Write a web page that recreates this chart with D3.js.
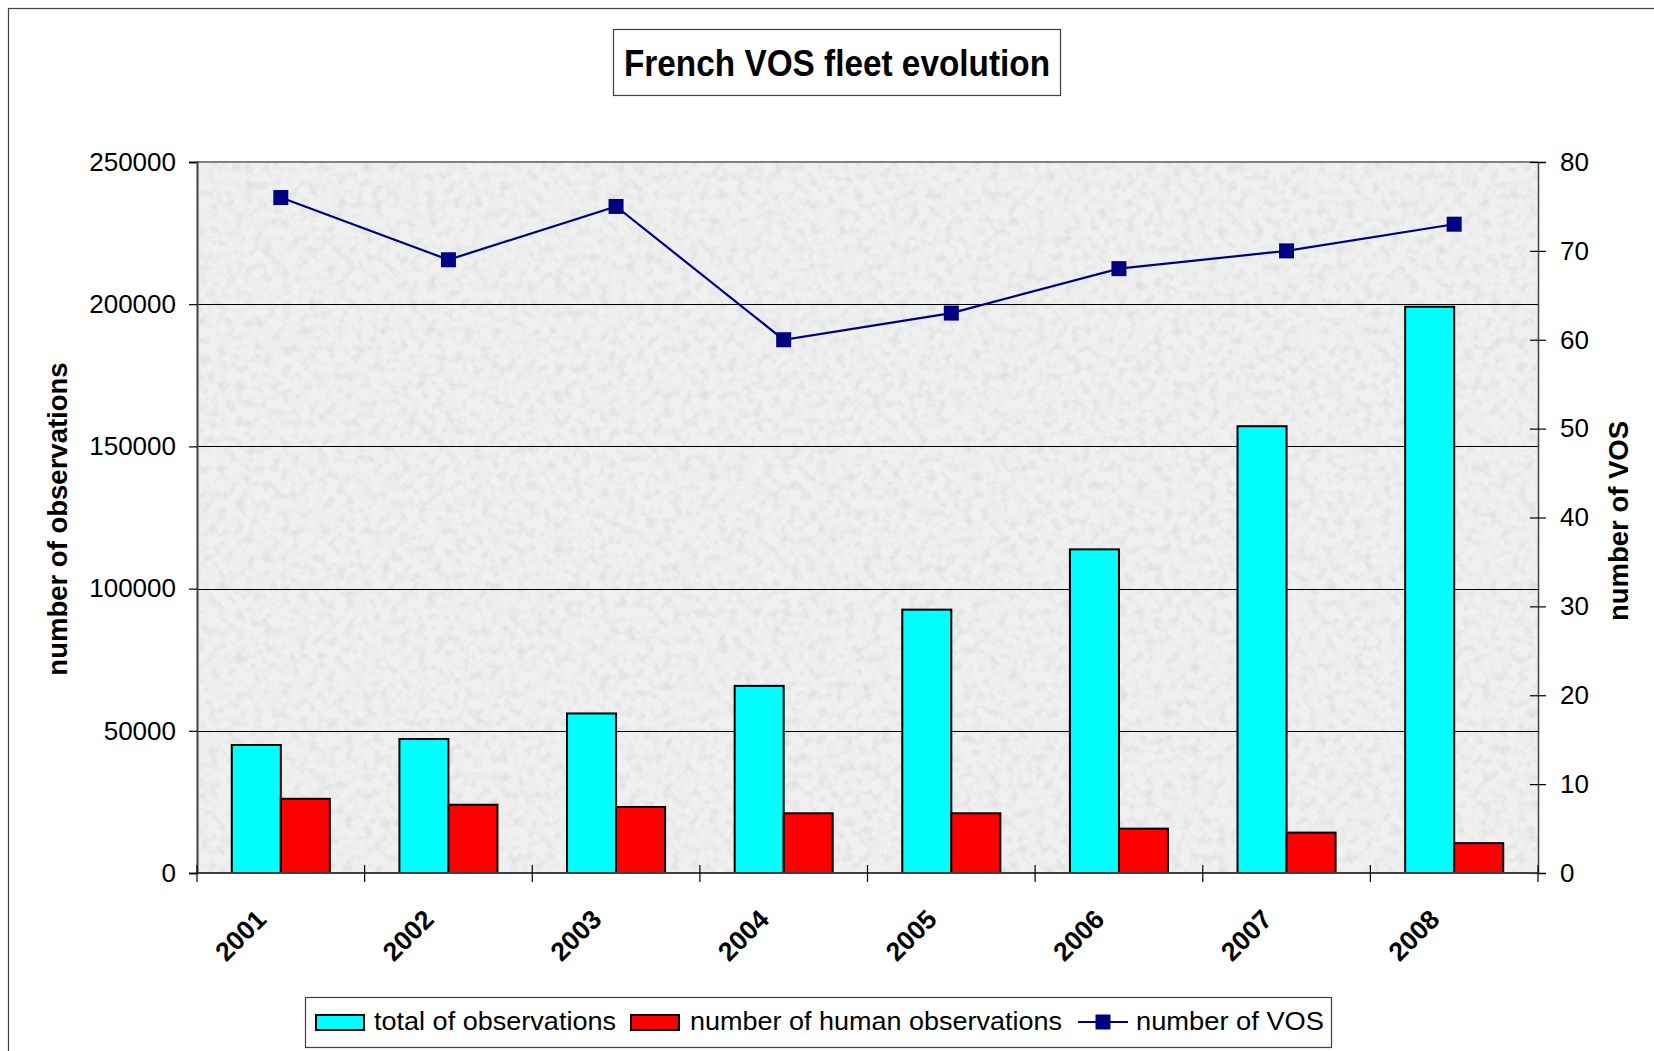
<!DOCTYPE html>
<html>
<head>
<meta charset="utf-8">
<script src="https://cdn.jsdelivr.net/npm/d3@7"></script>
<style>
  html, body { margin: 0; padding: 0; background: #ffffff; }
  svg { display: block; }
  text { font-family: "Liberation Sans", Arial, sans-serif; fill: #000; }
</style>
</head>
<body>
<svg id="chart" width="1654" height="1051"></svg>
<script>
// ---- data ----
const years = ["2001", "2002", "2003", "2004", "2005", "2006", "2007", "2008"];
const totalObservations = [45000, 47100, 56100, 65800, 92600, 113800, 157100, 199100];
const humanObservations = [26100, 24000, 23200, 21000, 21000, 15600, 14200, 10500];
const vosCount = [76, 69, 75, 60, 63, 68, 70, 73];
const leftTicks = [0, 50000, 100000, 150000, 200000, 250000];
const rightTicks = [0, 10, 20, 30, 40, 50, 60, 70, 80];
const seriesNames = ["total of observations", "number of human observations", "number of VOS"];
const titleText = "French VOS fleet evolution";
const leftAxisTitle = "number of observations";
const rightAxisTitle = "number of VOS";

// ---- layout ----
const W = 1654, H = 1051;
const plot = { left: 197, right: 1538, top: 162, bottom: 873 };
const svg = d3.select("#chart");

// defs: granite-like texture
const defs = svg.append("defs");
const f = defs.append("filter").attr("id", "granite")
  .attr("x", 0).attr("y", 0).attr("width", 1).attr("height", 1)
  .attr("filterUnits", "objectBoundingBox");
f.append("feTurbulence").attr("type", "fractalNoise").attr("baseFrequency", 0.11)
  .attr("numOctaves", 3).attr("seed", 7).attr("result", "noise");
f.append("feColorMatrix").attr("in", "noise").attr("type", "matrix")
  .attr("values", "0 0 0 0 0.62  0 0 0 0 0.62  0 0 0 0 0.62  2.2 0 0 0 -0.95");

// outer border (only top/left visible)
svg.append("rect").attr("x", 8.5).attr("y", 8.5).attr("width", 1700).attr("height", 1100)
  .attr("fill", "#fff").attr("stroke", "#404040").attr("stroke-width", 1.2);

// scales
const x0 = d3.scaleBand().domain(years).range([plot.left, plot.right]).padding(0);
const bw = x0.bandwidth();
const groupW = bw * 0.585;
const x1 = d3.scaleBand().domain(["total", "human"]).range([0, groupW]).padding(0);
const yL = d3.scaleLinear().domain([0, 250000]).range([plot.bottom, plot.top]);
const yR = d3.scaleLinear().domain([0, 80]).range([plot.bottom, plot.top]);

// plot background
svg.append("rect").attr("x", plot.left).attr("y", plot.top)
  .attr("width", plot.right - plot.left).attr("height", plot.bottom - plot.top)
  .attr("fill", "#f0f0f0");
svg.append("rect").attr("x", plot.left).attr("y", plot.top)
  .attr("width", plot.right - plot.left).attr("height", plot.bottom - plot.top)
  .attr("fill", "#000").attr("filter", "url(#granite)").attr("opacity", 0.5);

// gridlines
svg.append("g").selectAll("line")
  .data(leftTicks.filter(t => t > 0 && t < 250000)).join("line")
  .attr("x1", plot.left).attr("x2", plot.right)
  .attr("y1", d => Math.round(yL(d)) + 0.5).attr("y2", d => Math.round(yL(d)) + 0.5)
  .attr("stroke", "#000").attr("stroke-width", 1.2);
// top border
svg.append("line").attr("x1", plot.left).attr("x2", plot.right)
  .attr("y1", plot.top).attr("y2", plot.top).attr("stroke", "#808080").attr("stroke-width", 2);

// bars
const rows = years.map((y, i) => ({ year: y, total: totalObservations[i], human: humanObservations[i] }));
const groups = svg.append("g").selectAll("g").data(rows).join("g")
  .attr("transform", d => `translate(${x0(d.year) + (bw - groupW) / 2},0)`);
groups.selectAll("rect").data(d => [
  { key: "total", v: d.total, c: "#00ffff" },
  { key: "human", v: d.human, c: "#ff0000" }
]).join("rect")
  .attr("x", d => x1(d.key))
  .attr("y", d => yL(d.v))
  .attr("width", x1.bandwidth())
  .attr("height", d => yL(0) - yL(d.v))
  .attr("fill", d => d.c)
  .attr("stroke", "#000").attr("stroke-width", 2);

// line series
const line = d3.line().x((d, i) => x0(years[i]) + bw / 2).y(d => yR(d));
svg.append("path").datum(vosCount).attr("d", line)
  .attr("fill", "none").attr("stroke", "#000080").attr("stroke-width", 2.2);
svg.append("g").selectAll("rect").data(vosCount).join("rect")
  .attr("x", (d, i) => x0(years[i]) + bw / 2 - 7.5)
  .attr("y", d => yR(d) - 7.5)
  .attr("width", 15).attr("height", 15).attr("fill", "#000080");

// left axis
const axL = svg.append("g").attr("transform", `translate(${plot.left},0)`)
  .call(d3.axisLeft(yL).tickValues(leftTicks).tickSize(8).tickPadding(13).tickFormat(d3.format("d")));
axL.select(".domain").attr("stroke", "#404040").attr("stroke-width", 2);
axL.selectAll(".tick line").attr("stroke", "#000").attr("stroke-width", 1.2);
axL.selectAll("text").style("font-size", "26px").style("font-family", "Liberation Sans, Arial, sans-serif").attr("fill", "#000");

// right axis
const axR = svg.append("g").attr("transform", `translate(${plot.right},0)`)
  .call(d3.axisRight(yR).tickValues(rightTicks).tickSize(8).tickPadding(14));
axR.select(".domain").attr("stroke", "#404040").attr("stroke-width", 1.5);
axR.selectAll(".tick line").attr("x1", -8).attr("stroke", "#000").attr("stroke-width", 1.2);
axR.selectAll("text").style("font-size", "26px").style("font-family", "Liberation Sans, Arial, sans-serif").attr("fill", "#000");

// bottom axis: line + boundary ticks + rotated labels
svg.append("line").attr("x1", plot.left).attr("x2", plot.right)
  .attr("y1", plot.bottom).attr("y2", plot.bottom).attr("stroke", "#404040").attr("stroke-width", 2);
const bounds = years.map(y => x0(y)).concat([plot.right]);
svg.append("g").selectAll("line").data(bounds).join("line")
  .attr("x1", d => d).attr("x2", d => d)
  .attr("y1", plot.bottom - 8).attr("y2", plot.bottom + 9)
  .attr("stroke", "#000").attr("stroke-width", 1.2);
svg.append("g").selectAll("text").data(years).join("text")
  .attr("transform", d => `translate(${x0(d) + bw / 2 - 13},921) rotate(-45)`)
  .attr("text-anchor", "end")
  .style("font-size", "26.5px").style("font-weight", "bold")
  .text(d => d);

// axis titles
svg.append("text").attr("transform", `translate(67,519) rotate(-90)`)
  .attr("text-anchor", "middle").style("font-size", "27.5px").style("font-weight", "bold")
  .text(leftAxisTitle);
svg.append("text").attr("transform", `translate(1628,521) rotate(-90)`)
  .attr("text-anchor", "middle").style("font-size", "27.5px").style("font-weight", "bold")
  .text(rightAxisTitle);

// title
svg.append("rect").attr("x", 613.5).attr("y", 29.5).attr("width", 447).attr("height", 66)
  .attr("fill", "#fff").attr("stroke", "#404040").attr("stroke-width", 1.2);
svg.append("text").attr("x", 837).attr("y", 76).attr("text-anchor", "middle")
  .attr("textLength", 426).attr("lengthAdjust", "spacingAndGlyphs")
  .style("font-size", "36px").style("font-weight", "bold").text(titleText);

// legend
const lg = svg.append("g");
lg.append("rect").attr("x", 305.5).attr("y", 997.5).attr("width", 1026).attr("height", 50)
  .attr("fill", "#fff").attr("stroke", "#404040").attr("stroke-width", 1.2);
const legendItems = [
  { sx: 316, tx: 374, tl: 242, type: "bar", c: "#00ffff", name: seriesNames[0] },
  { sx: 631, tx: 690, tl: 372, type: "bar", c: "#ff0000", name: seriesNames[1] },
  { sx: 1078, tx: 1136, tl: 188, type: "line", c: "#000080", name: seriesNames[2] }
];
legendItems.forEach(it => {
  if (it.type === "bar") {
    lg.append("rect").attr("x", it.sx).attr("y", 1015).attr("width", 48).attr("height", 15)
      .attr("fill", it.c).attr("stroke", "#000").attr("stroke-width", 2);
  } else {
    lg.append("line").attr("x1", it.sx).attr("x2", it.sx + 50).attr("y1", 1022).attr("y2", 1022)
      .attr("stroke", it.c).attr("stroke-width", 2.2);
    lg.append("rect").attr("x", it.sx + 25 - 7.5).attr("y", 1022 - 7.5).attr("width", 15).attr("height", 15)
      .attr("fill", it.c);
  }
  lg.append("text").attr("x", it.tx).attr("y", 1030)
    .attr("textLength", it.tl).attr("lengthAdjust", "spacingAndGlyphs")
    .style("font-size", "25px").text(it.name);
});
</script>
</body>
</html>
